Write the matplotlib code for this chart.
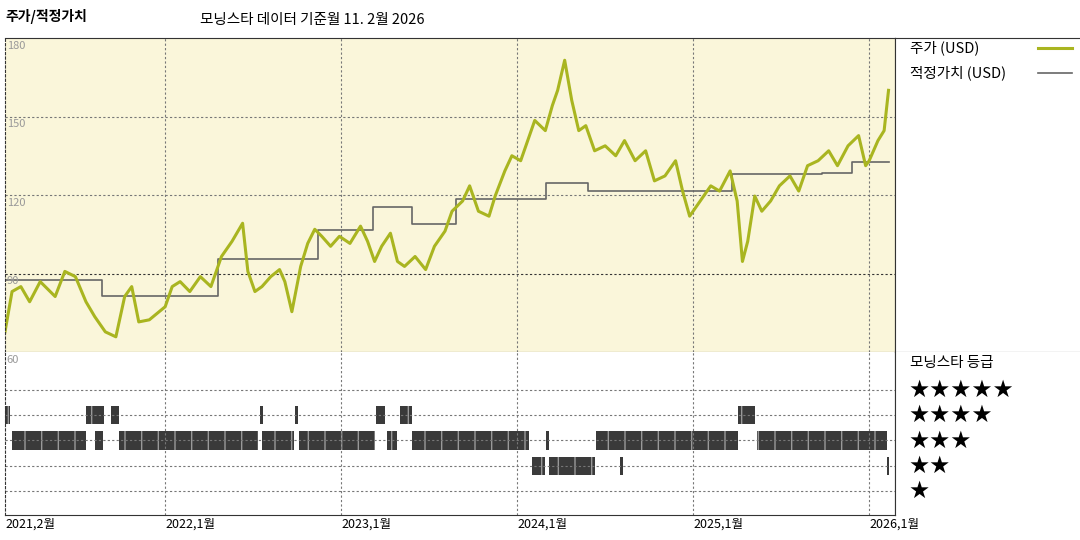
import matplotlib
matplotlib.use("Agg")
import matplotlib.pyplot as plt

plt.rcParams['font.family'] = ['Noto Sans CJK KR', 'DejaVu Sans']

price_dates = [2021.09,2021.13,2021.18,2021.23,2021.29,2021.375,2021.43,2021.49,2021.55,2021.60,
 2021.66,2021.72,2021.77,2021.81,2021.85,2021.91,2022.0,2022.04,2022.085,2022.14,
 2022.2,2022.26,2022.32,2022.38,2022.44,2022.47,2022.51,2022.55,2022.6,2022.65,
 2022.68,2022.72,2022.77,2022.81,2022.85,2022.89,2022.94,2022.99,2023.05,2023.11,
 2023.15,2023.19,2023.23,2023.28,2023.32,2023.36,2023.42,2023.48,2023.53,2023.59,
 2023.63,2023.69,2023.73,2023.78,2023.84,2023.875,2023.93,2023.97,2024.02,2024.06,
 2024.1,2024.16,2024.2,2024.23,2024.27,2024.31,2024.35,2024.39,2024.44,2024.5,
 2024.56,2024.61,2024.67,2024.73,2024.78,2024.84,2024.9,2024.94,2024.98,2025.04,
 2025.1,2025.15,2025.21,2025.25,2025.28,2025.31,2025.35,2025.39,2025.44,2025.49,
 2025.55,2025.6,2025.65,2025.71,2025.77,2025.82,2025.88,2025.94,2025.98,2026.0,
 2026.05,2026.085,2026.11]
price_values = [67.7,83.1,85.0,79.2,86.9,81.2,90.8,88.8,79.2,73.5,
 67.7,65.8,81.2,85.0,71.5,72.3,77.3,85.0,86.9,83.1,
 88.8,85.0,96.5,102.3,109.2,90.8,83.1,85.0,88.8,91.5,
 86.9,75.4,92.7,101.5,106.9,104.2,100.4,104.2,101.5,108.1,
 102.3,94.6,100.4,105.4,94.6,92.7,96.5,91.5,100.4,106.2,
 113.8,117.7,123.5,113.8,111.9,119.6,129.2,135.0,133.1,140.8,
 148.5,144.6,154.2,160.0,171.5,156.2,144.6,146.5,136.9,138.8,
 135.0,140.8,133.1,136.9,125.4,127.3,133.1,121.5,111.9,117.7,
 123.5,121.5,129.2,117.7,94.6,102.3,119.6,113.8,117.7,123.5,
 127.3,121.5,131.2,133.1,136.9,131.2,138.8,142.7,131.2,133.1,
 140.8,144.6,160.0]

fair_dates = [2021.09,2021.64,2022.30,2022.87,2023.18,2023.40,2023.65,2024.165,2024.40,2025.22,2025.73,2025.90,2026.11]
fair_values = [87.7,81.5,95.4,106.5,115.4,108.8,118.5,124.6,121.5,128.1,128.5,132.7,132.7]

# rating segments: start, end, stars
rating_start = [2021.09,2021.55,2021.69,2022.54,2022.74,2023.20,2023.335,2025.255,
                2021.13,2021.60,2021.74,2022.55,2022.76,2023.26,2023.40,2024.165,2024.45,2025.36,
                2024.085,2024.18,2024.585,2026.10]
rating_end = [2021.12,2021.65,2021.74,2022.545,2022.745,2023.25,2023.40,2025.35,
              2021.55,2021.645,2022.53,2022.73,2023.19,2023.32,2024.07,2024.17,2025.255,2026.10,
              2024.16,2024.44,2024.59,2026.105]
rating_stars = [4,4,4,4,4,4,4,4,
                3,3,3,3,3,3,3,3,3,3,
                2,2,2,2]

xtick_pos = [2021.09,2022.0,2023.0,2024.0,2025.0,2026.0]
xtick_lab = ["2021,2월","2022,1월","2023,1월","2024,1월","2025,1월","2026,1월"]

W, H = 1080, 540
fig = plt.figure(figsize=(10.8, 5.4), dpi=100)
def rect(x0, y0, x1, y1):
    return [x0/W, 1-y1/H, (x1-x0)/W, (y1-y0)/H]

xlim = (2021.09, 2021.09 + 890/176.0)
bg = '#faf6da'
olive = '#a9b520'

ax1 = fig.add_axes(rect(5, 38, 895, 352))
ax1.set_facecolor(bg)
ax1.set_xlim(xlim); ax1.set_ylim(60, 180)
for v in [90, 120, 150]:
    ax1.axhline(v, color='#333' if v == 90 else '#777', ls=(0, (2, 2)), lw=0.8)
for xp in xtick_pos[1:]:
    ax1.axvline(xp, color='#777', ls=(0, (2, 2)), lw=0.8)
ax1.step(fair_dates, fair_values, where='post', color='#666', lw=1.2)
ax1.plot(price_dates, price_values, color=olive, lw=2.2)
for v in [180, 150, 120, 90]:
    ax1.text(xlim[0] + 0.01, v - 1, str(v), color='#999', fontsize=8, va='top')
ax1.set_xticks([]); ax1.set_yticks([])
for s in ax1.spines.values():
    s.set_color('#333'); s.set_linewidth(0.8)
ax1.spines['left'].set_linestyle((0, (2, 2)))

ax2 = fig.add_axes(rect(5, 352, 895, 515))
ax2.set_xlim(xlim); ax2.set_ylim(0.05, 6.5)
for r in range(1, 6):
    ax2.axhline(r, color='#777', ls=(0, (2, 2)), lw=0.8)
for xp in xtick_pos[1:]:
    ax2.axvline(xp, color='#777', ls=(0, (2, 2)), lw=0.8)
for s0, s1, r in zip(rating_start, rating_end, rating_stars):
    ax2.broken_barh([(s0, max(s1 - s0, 0.014))], (r - 0.36, 0.72),
                    facecolor='#3a3a3a', edgecolor='#999', hatch='|', lw=0)
ax2.text(xlim[0] + 0.01, 6.4, "60", color='#999', fontsize=8, va='top')
ax2.set_yticks([])
ax2.set_xticks(xtick_pos)
ax2.set_xticklabels(xtick_lab, fontsize=9)
ax2.tick_params(axis='x', length=0, pad=2)
for lbl in ax2.get_xticklabels():
    lbl.set_ha('left')
for s in ax2.spines.values():
    s.set_color('#333'); s.set_linewidth(0.8)
ax2.spines['top'].set_visible(False)
ax2.spines['left'].set_linestyle((0, (2, 2)))

# right legend panels
axr1 = fig.add_axes(rect(895, 38, 1080, 352))
axr1.set_xlim(0, 185); axr1.set_ylim(314, 0)
axr1.set_xticks([]); axr1.set_yticks([])
axr1.spines['right'].set_visible(False)
for s in axr1.spines.values():
    s.set_color('#333'); s.set_linewidth(0.8)
axr1.text(15, 10, "주가 (USD)", fontsize=10.5, va='center')
axr1.plot([143, 177], [10, 10], color=olive, lw=2.2)
axr1.text(15, 35, "적정가치 (USD)", fontsize=10.5, va='center')
axr1.plot([143, 177], [35, 35], color='#666', lw=1.2)

axr2 = fig.add_axes(rect(895, 352, 1080, 515))
axr2.set_xlim(0, 185); axr2.set_ylim(163, 0)
axr2.set_xticks([]); axr2.set_yticks([])
for k in ['right', 'top', 'bottom']:
    axr2.spines[k].set_visible(False)
axr2.spines['left'].set_color('#333')
axr2.text(15, 11, "모닝스타 등급", fontsize=10.5, va='center')
for i, n in enumerate([5, 4, 3, 2, 1]):
    axr2.text(13, 38 + i * 25.3, "★" * n, fontsize=17, va='center',
              family=['DejaVu Sans'])

fig.text(5/W, 1-17/H, "주가/적정가치", fontsize=10, fontweight='bold', va='center')
fig.text(200/W, 1-20/H, "모닝스타 데이터 기준월 11. 2월 2026", fontsize=10.5, va='center')

fig.savefig("out.png", dpi=100)
